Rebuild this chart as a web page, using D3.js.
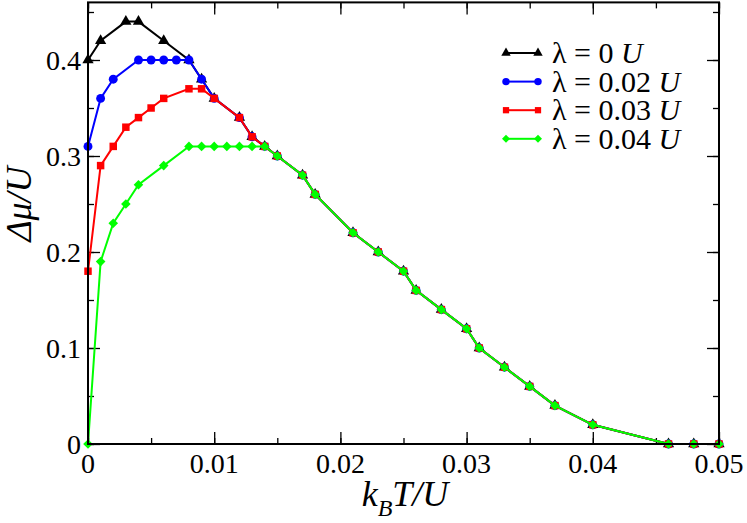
<!DOCTYPE html>
<html>
<head>
<meta charset="utf-8">
<script src="https://cdn.jsdelivr.net/npm/d3@7"></script>
</head>
<body style="margin:0">
<div id="chart"></div>
<script>
// data (x in k_B T/U, y in Δμ/U)
const tailT  = [0.015, 0.017, 0.018, 0.021, 0.023, 0.025, 0.026, 0.028, 0.030, 0.031, 0.033, 0.035, 0.037, 0.040, 0.046, 0.048, 0.050]
const tailMu = [0.30, 0.28, 0.26, 0.22, 0.20, 0.18, 0.16, 0.14, 0.12, 0.10, 0.08, 0.06, 0.04, 0.02, 0, 0, 0]

const t0  = [0, 0.001, 0.003, 0.004, 0.006, 0.008, 0.009, 0.010, 0.012, 0.013, 0.014]
const mu0 = [0.40, 0.42, 0.44, 0.44, 0.42, 0.40, 0.38, 0.36, 0.34, 0.32, 0.31]

const t02  = [0, 0.001, 0.002, 0.004, 0.005, 0.006, 0.007, 0.008, 0.009, 0.010, 0.012, 0.013, 0.014]
const mu02 = [0.31, 0.36, 0.38, 0.40, 0.40, 0.40, 0.40, 0.40, 0.38, 0.36, 0.34, 0.32, 0.31]

const t03  = [0, 0.001, 0.002, 0.003, 0.004, 0.005, 0.006, 0.008, 0.009, 0.010, 0.012, 0.013, 0.014]
const mu03 = [0.18, 0.29, 0.31, 0.33, 0.34, 0.35, 0.36, 0.37, 0.37, 0.36, 0.34, 0.32, 0.31]

const t04  = [0, 0.001, 0.002, 0.003, 0.004, 0.006, 0.008, 0.009, 0.010, 0.011, 0.012, 0.013, 0.014]
const mu04 = [0, 0.19, 0.23, 0.25, 0.27, 0.29, 0.31, 0.31, 0.31, 0.31, 0.31, 0.31, 0.31]

const legendLabels = ["0", "0.02", "0.03", "0.04"]
const xTicks = [0, 0.01, 0.02, 0.03, 0.04, 0.05]
const xTickLabels = ["0", "0.01", "0.02", "0.03", "0.04", "0.05"]
const yTicks = [0, 0.1, 0.2, 0.3, 0.4]
const yTickLabels = ["0", "0.1", "0.2", "0.3", "0.4"]

// series table built from the arrays above
const series = [
    { t: t0.concat(tailT),  mu: mu0.concat(tailMu),  color: "#000000", symbol: d3.symbolTriangle, size: 55, rot: 0 },
    { t: t02.concat(tailT), mu: mu02.concat(tailMu), color: "#0000ff", symbol: d3.symbolCircle,   size: 62, rot: 0 },
    { t: t03.concat(tailT), mu: mu03.concat(tailMu), color: "#ff0000", symbol: d3.symbolSquare,   size: 56, rot: 0 },
    { t: t04.concat(tailT), mu: mu04.concat(tailMu), color: "#00ff00", symbol: d3.symbolSquare,   size: 46, rot: 45 }
]

const fontFamily = "Liberation Serif, Times New Roman, serif"
const W = 747, H = 523
const margin = { top: 2.4, right: 28, bottom: 79, left: 88 }

const svg = d3.select("#chart")
    .append("svg")
    .attr("width", W)
    .attr("height", H)
    .style("font-family", fontFamily)

const x = d3.scaleLinear()
    .domain([0, 0.05])
    .range([margin.left, W - margin.right])

const y = d3.scaleLinear()
    .domain([0, 0.46])
    .range([H - margin.bottom, margin.top])

// major + minor ticks pointing inward on all four sides
const xMinor = d3.range(0, 0.0501, 0.005)
const yMinor = d3.range(0, 0.4601, 0.05)

function tickAxis(axis, scale, values, len) {
    return axis(scale).tickValues(values).tickSizeInner(-len).tickSizeOuter(0).tickFormat("")
}

const axes = [
    [d3.axisBottom, x, `translate(0,${y(0)})`],
    [d3.axisTop, x, `translate(0,${y(0.46)})`],
    [d3.axisLeft, y, `translate(${x(0)},0)`],
    [d3.axisRight, y, `translate(${x(0.05)},0)`]
]
axes.forEach(([axis, scale, tr]) => {
    const major = scale === x ? xTicks : yTicks
    const minor = scale === x ? xMinor : yMinor
    svg.append("g").attr("transform", tr).call(tickAxis(axis, scale, minor, 6))
        .call(g => g.select(".domain").remove())
    svg.append("g").attr("transform", tr).call(tickAxis(axis, scale, major, 12))
        .call(g => g.select(".domain").remove())
})
svg.selectAll(".tick line").attr("stroke", "#000").attr("stroke-width", 1.3)

// tick labels
svg.append("g").selectAll("text")
    .data(xTicks)
    .join("text")
    .attr("x", d => x(d))
    .attr("y", y(0) + 29)
    .attr("text-anchor", "middle")
    .attr("font-size", 28)
    .style("font-family", fontFamily)
    .text((d, i) => xTickLabels[i])

svg.append("g").selectAll("text")
    .data(yTicks)
    .join("text")
    .attr("x", x(0) - 7)
    .attr("y", d => y(d))
    .attr("dy", "0.34em")
    .attr("text-anchor", "end")
    .attr("font-size", 28)
    .style("font-family", fontFamily)
    .text((d, i) => yTickLabels[i])

// data lines and symbols
const line = d3.line()
    .x(d => x(d[0]))
    .y(d => y(d[1]))

series.forEach(s => {
    const pts = s.t.map((t, i) => [t, s.mu[i]])
    svg.append("path")
        .datum(pts)
        .attr("fill", "none")
        .attr("stroke", s.color)
        .attr("stroke-width", 2)
        .attr("d", line)
    svg.append("g").selectAll("path")
        .data(pts)
        .join("path")
        .attr("transform", d => `translate(${x(d[0])},${y(d[1])}) rotate(${s.rot})`)
        .attr("d", d3.symbol().type(s.symbol).size(s.size))
        .attr("fill", s.color)
})

// frame
svg.append("rect")
    .attr("x", x(0))
    .attr("y", y(0.46))
    .attr("width", x(0.05) - x(0))
    .attr("height", y(0) - y(0.46))
    .attr("fill", "none")
    .attr("stroke", "#000")
    .attr("stroke-width", 2)

// legend
const legend = svg.append("g")
series.forEach((s, i) => {
    const ly = 53 + i * 28.6
    legend.append("line")
        .attr("x1", 506).attr("x2", 538)
        .attr("y1", ly).attr("y2", ly)
        .attr("stroke", s.color)
        .attr("stroke-width", 2)
    ;[506, 538].forEach(lx => {
        legend.append("path")
            .attr("transform", `translate(${lx},${ly}) rotate(${s.rot})`)
            .attr("d", d3.symbol().type(s.symbol).size(s.size * 0.7))
            .attr("fill", s.color)
    })
    const txt = legend.append("text")
        .attr("x", 552)
        .attr("y", ly + 10)
        .attr("font-size", 30)
        .style("font-family", fontFamily)
    txt.append("tspan").text(`λ = ${legendLabels[i]} `)
    txt.append("tspan").attr("font-style", "italic").text("U")
})

// axis titles
const xt = svg.append("text")
    .attr("x", 405)
    .attr("y", 506)
    .attr("text-anchor", "middle")
    .attr("font-size", 36)
    .attr("font-style", "italic")
    .style("font-family", fontFamily)
xt.append("tspan").text("k")
xt.append("tspan").attr("font-size", 24).attr("dy", 10).text("B")
xt.append("tspan").attr("dy", -10).text("T/U")

svg.append("text")
    .attr("transform", "translate(31,204) rotate(-90)")
    .attr("text-anchor", "middle")
    .attr("font-size", 36)
    .attr("font-style", "italic")
    .style("font-family", fontFamily)
    .text("Δμ/U")
</script>
</body>
</html>
